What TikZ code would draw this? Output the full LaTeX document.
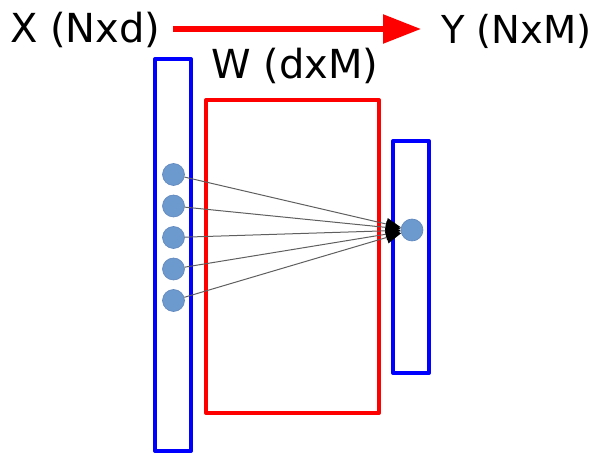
\documentclass[tikz,border=0pt]{standalone}
\usepackage{fontspec}
\setmainfont{DejaVu Sans}
\usetikzlibrary{arrows.meta}
\begin{document}
\begin{tikzpicture}[x=1pt,y=-1pt,
  lbl/.style={anchor=base west,inner sep=0pt,font=\fontsize{40}{42}\selectfont},
  bluebox/.style={draw=blue,line width=4pt,line join=round},
  redbox/.style={draw=red,line width=4pt,line join=round},
  unit/.style={circle,minimum size=22pt,inner sep=0pt,fill={rgb,255:red,108;green,153;blue,206},draw={rgb,255:red,95;green,135;blue,190},line width=0.6pt},
  link/.style={draw={rgb,255:red,95;green,95;blue,95},line width=1pt,-{Triangle[length=15pt,width=12pt,color=black]}}
]
\useasboundingbox (0,0) rectangle (600,454);
\node[lbl] (X) at (10,43) {X (Nxd)};
\node[lbl,font=\fontsize{38.5}{40}\selectfont] (Y) at (441,44) {Y (NxM)};
\node[lbl,font=\fontsize{40}{42}\selectfont] (W) at (211,79) {W (dxM)};
\coordinate (as) at (173,29);
\coordinate (ae) at (421,29);
\draw[red,line width=5.5pt,-{Triangle[length=38pt,width=28pt]}] (as) -- (ae);
\draw[bluebox] (155,59) rectangle (191,451);
\draw[redbox] (206,100) rectangle (379,413);
\draw[bluebox] (393,141) rectangle (429,373);
\foreach \i/\y in {1/174.5,2/206,3/237.5,4/269,5/300.5}
  \node[unit] (c\i) at (173.5,\y) {};
\node[unit] (o) at (412,230) {};
\foreach \i in {1,...,5}
  \draw[link] (c\i) -- (o);
\end{tikzpicture}
\end{document}
